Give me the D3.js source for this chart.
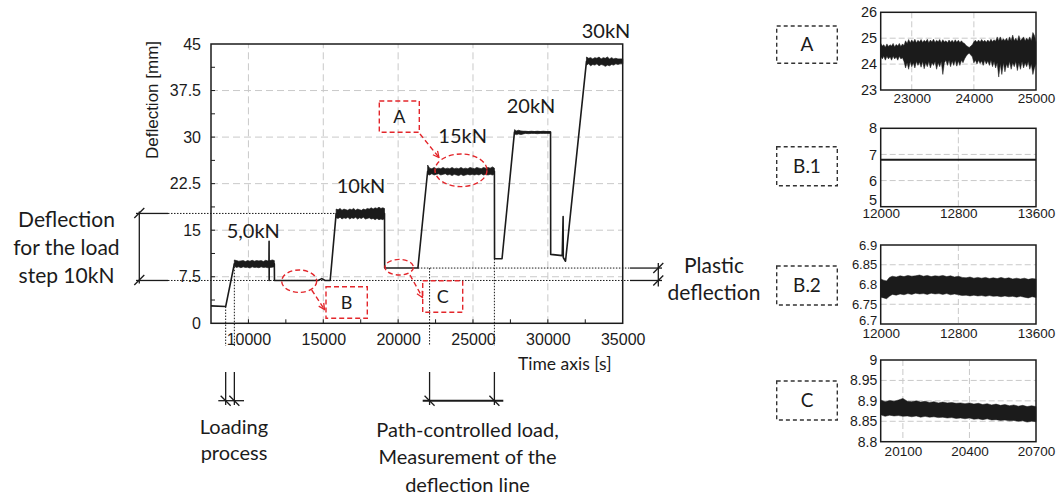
<!DOCTYPE html>
<html>
<head>
<meta charset="utf-8">
<script src="https://cdn.jsdelivr.net/npm/d3@7"></script>
<style>
  html, body { margin: 0; padding: 0; background: #fff; }
  svg { display: block; }
</style>
</head>
<body>
<svg id="chart" width="1059" height="496"></svg>
<script>
// ---------- main test record: deflection over time ----------
// skeleton of the recorded path (time [s], deflection [mm])
const mainTime = [7500, 8480, 9060, 11370, 11380, 11385, 11390, 11730, 11740, 14650, 14900, 15120, 15460,
                  15860, 19090, 19100, 21320, 21970, 26430, 26440, 26940, 27770, 30180, 30190, 30960,
                  31020, 31030, 31180, 32580, 35000];
const mainDefl = [2.8, 2.7, 9.6, 9.6, 13.2, 6.9, 9.6, 9.6, 6.9, 6.9, 7.2, 6.9, 6.9,
                  17.7, 17.7, 8.9, 8.9, 24.5, 24.5, 10.4, 10.4, 30.8, 30.8, 11.1, 10.9,
                  17.2, 10.6, 10.0, 42.2, 42.2];

// scatter envelopes of the held load steps: [time, lower, upper]
const band5 = [[9060,9.2,10.2],[9200,9.0,10.1],[9350,9.1,10.0],[9500,8.95,10.05],[9650,9.1,10.1],[9800,9.0,9.95],
  [9950,9.05,10.1],[10100,8.9,10.0],[10250,9.1,10.15],[10400,9.0,10.0],[10550,9.05,10.1],[10700,8.95,10.05],
  [10850,9.1,10.1],[11000,9.0,9.95],[11150,9.05,10.15],[11300,8.95,10.05],[11450,9.0,10.1],[11600,9.05,10.2],[11730,9.1,10.1]];
const band10 = [[15860,17.0,18.4],[15990,16.9,18.3],[16120,17.1,18.5],[16250,16.8,18.2],[16380,17.0,18.4],[16510,16.9,18.3],
  [16640,17.1,18.2],[16770,16.8,18.4],[16900,17.0,18.3],[17030,16.9,18.5],[17160,17.1,18.2],[17290,16.8,18.4],
  [17420,17.0,18.3],[17550,16.9,18.2],[17680,17.1,18.4],[17810,16.8,18.3],[17940,16.9,18.5],[18070,17.0,18.4],
  [18200,16.8,18.6],[18330,16.9,18.4],[18460,16.7,18.6],[18590,16.9,18.5],[18720,16.7,18.7],[18850,16.8,18.5],
  [18980,16.7,18.6],[19090,16.9,18.5]];
const band15 = [[21970,24.0,25.5],[22100,23.9,25.0],[22250,24.1,24.9],[22400,23.9,25.1],[22550,24.0,24.9],[22700,24.1,25.0],
  [22850,23.9,24.9],[23000,24.0,25.1],[23150,24.1,24.9],[23300,23.9,25.0],[23450,24.0,24.9],[23600,23.8,25.1],
  [23750,24.0,24.9],[23900,23.9,25.0],[24050,23.8,24.9],[24200,24.0,25.1],[24350,23.8,24.9],[24500,23.9,25.0],
  [24650,24.0,24.9],[24800,23.9,25.1],[24950,24.0,25.0],[25100,23.9,24.9],[25250,24.0,25.1],[25400,23.9,25.0],
  [25550,24.1,24.9],[25700,23.9,25.1],[25850,24.0,25.0],[26000,23.9,25.1],[26150,24.0,25.0],[26300,23.9,25.2],[26430,24.0,25.0]];
const band20 = [[27770,30.5,31.2],[27900,30.4,31.0],[28050,30.5,31.1],[28200,30.4,31.0],[28350,30.5,30.95],
  [28500,30.6,30.95],[28700,30.55,30.9],[28900,30.6,30.95],[29100,30.6,30.9],[29300,30.55,30.95],
  [29500,30.6,30.9],[29700,30.6,30.95],[29900,30.6,30.9],[30180,30.6,30.9]];
const band30 = [[32580,41.6,42.9],[32720,41.8,42.7],[32860,41.5,42.8],[33000,41.7,42.6],[33140,41.6,42.8],
  [33280,41.8,42.7],[33420,41.5,42.9],[33560,41.7,42.6],[33700,41.6,42.8],[33840,41.4,42.7],[33980,41.6,42.9],
  [34120,41.5,42.6],[34260,41.7,42.8],[34400,41.6,42.6],[34540,41.8,42.7],[34680,41.7,42.6],[34820,41.8,42.6],[35000,41.8,42.6]];

// axis ticks of the main chart
const mainXTicks = [10000, 15000, 20000, 25000, 30000, 35000];
const mainYTicks = [0, 7.5, 15, 22.5, 30, 37.5, 45];
const stepLabels = ["5,0kN", "10kN", "15kN", "20kN", "30kN"];

// ---------- detail views ----------
const insetA = [
  [22500,24.3,24.8],[22525,24.2,24.7],[22550,24.3,24.75],[22575,24.15,24.65],[22600,24.3,24.78],[22625,24.2,24.68],
  [22650,24.28,24.75],[22675,24.15,24.7],[22700,24.3,24.8],[22725,24.2,24.66],[22750,24.27,24.76],[22775,24.15,24.7],
  [22800,24.3,24.8],[22825,24.2,24.68],[22850,24.25,24.78],[22875,24.1,24.72],[22900,23.85,24.9],[22925,24.05,24.8],
  [22950,23.8,24.95],[22975,24.1,24.82],[23000,23.9,24.93],[23025,24.05,24.84],[23050,23.85,24.96],[23075,24.1,24.82],
  [23100,23.95,24.92],[23125,24.08,24.85],[23150,23.88,24.95],[23175,24.1,24.83],[23200,23.82,24.92],[23225,24.05,24.86],
  [23250,23.9,24.96],[23275,24.1,24.82],[23300,23.85,24.93],[23325,24.05,24.85],[23350,23.95,24.96],[23375,24.1,24.83],
  [23400,23.8,24.92],[23425,24.05,24.86],[23450,23.9,24.95],[23475,24.1,24.82],[23500,23.6,24.94],[23525,24.05,24.85],
  [23550,24.15,24.9],[23575,23.95,24.82],[23600,24.15,24.93],[23625,23.9,24.84],[23650,24.12,24.92],[23675,23.95,24.83],
  [23700,24.15,24.94],[23725,23.92,24.84],[23750,24.12,24.92],[23775,23.95,24.83],[23800,24.15,24.9],[23825,24.05,24.82],
  [23850,24.2,24.8],[23875,24.3,24.72],[23900,24.38,24.68],[23925,24.42,24.64],[23950,24.35,24.7],[23975,24.28,24.75],
  [24000,24.05,24.86],[24025,24.15,24.92],[24050,24.0,24.84],[24075,24.15,24.93],[24100,24.02,24.85],[24125,24.12,24.95],
  [24150,23.95,24.86],[24175,24.15,24.92],[24200,24.0,24.84],[24225,24.12,24.93],[24250,23.95,24.85],[24275,24.15,24.96],
  [24300,23.9,24.86],[24325,24.1,24.94],[24350,23.85,24.88],[24375,24.05,25.05],[24400,23.5,24.9],[24425,24.0,25.05],
  [24450,23.6,24.9],[24475,24.05,24.98],[24500,23.7,24.9],[24525,24.0,25.0],[24550,23.85,24.88],[24575,24.1,25.05],
  [24600,23.8,24.9],[24625,24.05,25.12],[24650,23.9,24.9],[24675,24.1,25.0],[24700,23.75,24.88],[24725,24.05,25.1],
  [24750,23.8,24.9],[24775,24.1,24.98],[24800,23.85,25.05],[24825,24.05,24.9],[24850,23.9,25.0],[24875,24.1,24.92],
  [24900,23.8,25.05],[24925,24.0,24.9],[24950,23.6,25.22],[24975,23.85,25.1],[25000,24.0,24.85]];
const insetB1 = [[12000, 6.8], [13600, 6.8]];
const insetB2 = [[12000,6.768,6.814],[12030,6.766,6.811],[12060,6.764,6.809],[12090,6.770,6.818],[12120,6.775,6.821],
  [12160,6.773,6.819],[12200,6.776,6.822],[12240,6.774,6.820],[12280,6.777,6.823],[12320,6.775,6.821],
  [12360,6.778,6.822],[12400,6.776,6.824],[12440,6.777,6.821],[12480,6.775,6.823],[12520,6.778,6.820],
  [12560,6.776,6.822],[12600,6.777,6.821],[12640,6.775,6.823],[12680,6.777,6.820],[12720,6.774,6.822],
  [12760,6.776,6.819],[12800,6.774,6.821],[12840,6.772,6.818],[12880,6.773,6.817],[12920,6.771,6.819],
  [12960,6.773,6.816],[13000,6.771,6.818],[13040,6.772,6.816],[13080,6.770,6.818],[13120,6.772,6.815],
  [13160,6.770,6.817],[13200,6.771,6.815],[13240,6.769,6.818],[13280,6.771,6.815],[13320,6.769,6.817],
  [13360,6.770,6.814],[13400,6.768,6.816],[13440,6.770,6.814],[13480,6.768,6.816],[13520,6.766,6.813],
  [13560,6.769,6.815],[13600,6.767,6.814]];
const insetC = [[20000,8.866,8.902],[20020,8.862,8.898],[20040,8.865,8.901],[20060,8.863,8.899],[20080,8.864,8.902],
  [20100,8.862,8.906],[20120,8.863,8.899],[20140,8.861,8.898],[20160,8.863,8.900],[20180,8.860,8.897],
  [20200,8.862,8.899],[20220,8.860,8.896],[20240,8.861,8.898],[20260,8.859,8.895],[20280,8.860,8.897],
  [20300,8.858,8.895],[20320,8.859,8.896],[20340,8.857,8.894],[20360,8.858,8.895],[20380,8.856,8.893],
  [20400,8.858,8.895],[20420,8.855,8.892],[20440,8.856,8.894],[20460,8.854,8.891],[20480,8.856,8.893],
  [20500,8.853,8.890],[20520,8.854,8.892],[20540,8.852,8.889],[20560,8.853,8.891],[20580,8.851,8.888],
  [20600,8.852,8.890],[20620,8.850,8.887],[20640,8.851,8.889],[20660,8.848,8.886],[20680,8.850,8.888],
  [20700,8.849,8.886]];

const insetAXTicks = [23000, 24000, 25000], insetAYTicks = [23, 24, 25, 26];
const insetBXTicks = [12000, 12800, 13600];
const insetB1YTicks = [5, 6, 7, 8];
const insetB2YTicks = [6.7, 6.75, 6.8, 6.85, 6.9];
const insetCXTicks = [20100, 20400, 20700], insetCYTicks = [8.8, 8.85, 8.9, 8.95, 9];

// ---------- styling ----------
const INK = "#1b1b1b", RED = "#e3262b", GRID = "#c9c9c9";
const F_AX = "'Liberation Sans', Arial, sans-serif";
const F_TX = "Lato, 'Open Sans', sans-serif";

const svg = d3.select("#chart");
const defs = svg.append("defs");
defs.append("marker").attr("id", "arr").attr("viewBox", "0 0 8 8").attr("refX", 7).attr("refY", 4)
  .attr("markerWidth", 8).attr("markerHeight", 8).attr("markerUnits", "userSpaceOnUse").attr("orient", "auto")
  .append("path").attr("d", "M1,1 L7,4 L1,7").attr("fill", "none").attr("stroke", RED).attr("stroke-width", 1.3);

// ---------- main chart ----------
const x = d3.scaleLinear().domain([7500, 35000]).range([211, 622.7]);
const y = d3.scaleLinear().domain([0, 45]).range([323.3, 44]);
const main = svg.append("g");

// grid
main.append("g").selectAll("line").data(mainXTicks.filter(t => t < 35000)).join("line")
  .attr("x1", d => x(d)).attr("x2", d => x(d)).attr("y1", y(0)).attr("y2", y(45))
  .attr("stroke", GRID).attr("stroke-width", 1).attr("stroke-dasharray", "7,4");
main.append("g").selectAll("line").data(mainYTicks.filter(t => t > 0 && t < 45)).join("line")
  .attr("x1", x(7500)).attr("x2", x(35000)).attr("y1", d => y(d)).attr("y2", d => y(d))
  .attr("stroke", GRID).attr("stroke-width", 1).attr("stroke-dasharray", "7,4");

// inward minor ticks
main.append("g").selectAll("line").data(d3.range(10000, 35000, 2500)).join("line")
  .attr("x1", d => x(d)).attr("x2", d => x(d)).attr("y1", y(0)).attr("y2", y(0) - 4)
  .attr("stroke", INK).attr("stroke-width", 1);
main.append("g").selectAll("line").data(d3.range(3.75, 45, 3.75)).join("line")
  .attr("x1", x(7500)).attr("x2", x(7500) + 4).attr("y1", d => y(d)).attr("y2", d => y(d))
  .attr("stroke", INK).attr("stroke-width", 1);

// tick labels
const xAxis = main.append("g").attr("transform", `translate(0,${y(0)})`)
  .call(d3.axisBottom(x).tickValues(mainXTicks).tickSize(0).tickPadding(10.3).tickFormat(d3.format("d")));
const yAxis = main.append("g").attr("transform", `translate(${x(7500)},0)`)
  .call(d3.axisLeft(y).tickValues(mainYTicks).tickSize(0).tickPadding(10).tickFormat(d => String(d)));
[xAxis, yAxis].forEach(a => {
  a.select(".domain").remove();
  a.attr("font-family", F_AX).attr("font-size", 16);
  a.selectAll("text").attr("fill", INK);
});

// reference (dotted) lines
const dot = sel => sel.attr("stroke", INK).attr("stroke-width", 1).attr("stroke-dasharray", "1.5,1.5").attr("fill", "none");
const solid = sel => sel.attr("stroke", INK).attr("stroke-width", 1.3).attr("fill", "none");
const seg = (x1, y1, x2, y2) => main.append("line").attr("x1", x1).attr("y1", y1).attr("x2", x2).attr("y2", y2);

seg(168, y(17.7), x(19090), y(17.7)).call(dot);
seg(168, y(6.9), 630, y(6.9)).call(dot);
seg(x(21320), y(8.9), 630, y(8.9)).call(dot);
// vertical markers of loading and measuring phases
[8480, 9060].forEach((t, i) => {
  seg(x(t), y(i ? 9.6 : 2.7), x(t), 346).call(dot);
  seg(x(t), 372, x(t), 405).call(solid);
});
[22100, 26430].forEach((t, i) => {
  seg(x(t), y(i ? 10.4 : 8.9), x(t), 346).call(dot);
  seg(x(t), 372, x(t), 405).call(solid);
});
seg(218.3, 400.7, 244, 400.7).call(solid);
seg(422.7, 400.7, 503.3, 400.7).call(solid).attr("stroke-width", 2);
[x(8480), x(9060), x(22100), x(26430)].forEach(px => seg(px - 5, 395.7, px + 5, 405.7).call(solid));

// left bracket: deflection of the 10 kN step
seg(139.3, y(17.7) - 2, 139.3, y(6.9) + 3).call(solid);
seg(136, y(17.7), 168, y(17.7)).call(solid);
seg(136, y(6.9), 168, y(6.9)).call(solid);
[y(17.7), y(6.9)].forEach(py => seg(134.3, py + 4.5, 144.3, py - 5.5).call(solid));

// right bracket: plastic deflection
seg(658.3, y(8.9) - 5, 658.3, y(6.9) + 6).call(solid);
seg(630, y(8.9), 662, y(8.9)).call(solid);
seg(630, y(6.9), 662, y(6.9)).call(solid);
[y(8.9), y(6.9)].forEach(py => seg(653.3, py + 5, 663.3, py - 5).call(solid));

// recorded path
const pts = mainTime.map((t, i) => [t, mainDefl[i]]);
main.append("path").datum(pts)
  .attr("d", d3.line().x(d => x(d[0])).y(d => y(d[1])))
  .attr("fill", "none").attr("stroke", INK).attr("stroke-width", 1.6).attr("stroke-linejoin", "round");
const bandArea = d3.area().x(d => x(d[0])).y0(d => y(d[1])).y1(d => y(d[2]));
[band5, band10, band15, band20, band30].forEach(b =>
  main.append("path").datum(b).attr("d", bandArea)
    .attr("fill", INK).attr("stroke", INK).attr("stroke-width", 0.7));

// frame
main.append("rect").attr("x", x(7500)).attr("y", y(45)).attr("width", x(35000) - x(7500)).attr("height", y(0) - y(45))
  .attr("fill", "none").attr("stroke", INK).attr("stroke-width", 1.5);

// axis titles
main.append("text").attr("transform", `translate(158,100) rotate(-90)`).attr("text-anchor", "middle")
  .attr("font-family", F_AX).attr("font-size", 17).attr("fill", INK).text("Deflection [mm]");
main.append("text").attr("x", 518).attr("y", 370).attr("font-family", F_TX).attr("font-size", 17.5)
  .attr("fill", INK).text("Time axis [s]");

// load step labels
const stepPos = [[226.7, 237.7], [336.7, 193.3], [438.3, 143.3], [506.7, 112.7], [581.7, 38.3]];
main.append("g").selectAll("text").data(stepLabels).join("text")
  .attr("x", (d, i) => stepPos[i][0]).attr("y", (d, i) => stepPos[i][1])
  .attr("font-family", F_TX).attr("font-size", 20).attr("fill", INK).text(d => d);

// explanatory texts
const multi = (lines, cx, y0, dy, size) => {
  const t = main.append("text").attr("text-anchor", "middle").attr("font-family", F_TX)
    .attr("font-size", size).attr("fill", INK);
  lines.forEach((s, i) => t.append("tspan").attr("x", cx).attr("y", y0 + i * dy).text(s));
};
multi(["Deflection", "for the load", "step 10kN"], 66.5, 227, 28, 21);
multi(["Plastic", "deflection"], 714, 273.3, 26.7, 21);
multi(["Loading", "process"], 234, 434, 25.5, 20);
multi(["Path-controlled load,", "Measurement of the", "deflection line"], 467.5, 436.7, 27.5, 20);

// red detail markers
const red = sel => sel.attr("fill", "none").attr("stroke", RED).attr("stroke-width", 1.4).attr("stroke-dasharray", "5,3");
[[461, 170.3, 26, 16.3], [299.2, 281.2, 17.5, 11.2], [399.2, 267.2, 14.2, 7.8]].forEach(e =>
  main.append("ellipse").attr("cx", e[0]).attr("cy", e[1]).attr("rx", e[2]).attr("ry", e[3]).call(red));
const redBoxes = [["A", 379.3, 101, 40, 31.3], ["B", 326, 286.7, 41.3, 31.6], ["C", 422.7, 280.7, 40, 31.6]];
redBoxes.forEach(b => {
  main.append("rect").attr("x", b[1]).attr("y", b[2]).attr("width", b[3]).attr("height", b[4]).call(red);
  main.append("text").attr("x", b[1] + b[3] / 2).attr("y", b[2] + b[4] / 2 + 6.5).attr("text-anchor", "middle")
    .attr("font-family", F_TX).attr("font-size", 18).attr("fill", INK).text(b[0]);
});
[[420, 134, 439, 157.5], [311.7, 290, 324.5, 309.5], [410, 275, 422.5, 297.5]].forEach(l =>
  main.append("line").attr("x1", l[0]).attr("y1", l[1]).attr("x2", l[2]).attr("y2", l[3]).call(red)
    .attr("marker-end", "url(#arr)"));

// ---------- detail views ----------
const insetCfg = [
  { name: "A", top: 12.3, bottom: 90, box: [26, 63.3], xd: [22500, 25000], yd: [23, 26],
    xt: insetAXTicks, yt: insetAYTicks, xg: [23000, 24000], yg: [24, 25], pad: 3, yfs: 14.5, band: insetA },
  { name: "B.1", top: 128.3, bottom: 206.7, box: [146.7, 185.7], xd: [12000, 13600], yd: [5, 8],
    xt: insetBXTicks, yt: insetB1YTicks, xg: [12800], yg: [6, 7], pad: 2, yfs: 14.5, lift: 7, line: insetB1 },
  { name: "B.2", top: 245, bottom: 324, box: [266, 305], xd: [12000, 13600], yd: [6.7, 6.9],
    xt: insetBXTicks, yt: insetB2YTicks, xg: [12800], yg: [6.75, 6.8, 6.85], pad: 4.5, yfs: 13, lift: 4, band: insetB2 },
  { name: "C", top: 360, bottom: 441.7, box: [381, 420], xd: [20000, 20700], yd: [8.8, 9.0],
    xt: insetCXTicks, yt: insetCYTicks, xg: [20100, 20400], yg: [8.85, 8.9, 8.95], pad: 4.8, yfs: 14, band: insetC }
];
const L = 880.7, R = 1036;
insetCfg.forEach(c => {
  const g = svg.append("g");
  const sx = d3.scaleLinear().domain(c.xd).range([L, R]);
  const sy = d3.scaleLinear().domain(c.yd).range([c.bottom, c.top]);
  g.append("g").selectAll("line").data(c.xg).join("line")
    .attr("x1", d => sx(d)).attr("x2", d => sx(d)).attr("y1", c.top).attr("y2", c.bottom)
    .attr("stroke", GRID).attr("stroke-dasharray", "6,3");
  g.append("g").selectAll("line").data(c.yg).join("line")
    .attr("x1", L).attr("x2", R).attr("y1", d => sy(d)).attr("y2", d => sy(d))
    .attr("stroke", GRID).attr("stroke-dasharray", "6,3");
  if (c.band) {
    g.append("path").datum(c.band)
      .attr("d", d3.area().x(d => sx(d[0])).y0(d => sy(d[1])).y1(d => sy(d[2])))
      .attr("fill", INK).attr("stroke", INK).attr("stroke-width", 0.5);
  }
  if (c.line) {
    g.append("path").datum(c.line).attr("d", d3.line().x(d => sx(d[0])).y(d => sy(d[1])))
      .attr("fill", "none").attr("stroke", INK).attr("stroke-width", 2);
  }
  g.append("rect").attr("x", L).attr("y", c.top).attr("width", R - L).attr("height", c.bottom - c.top)
    .attr("fill", "none").attr("stroke", INK).attr("stroke-width", 1.5);
  const ax = g.append("g").attr("transform", `translate(0,${c.bottom})`)
    .call(d3.axisBottom(sx).tickValues(c.xt).tickSize(0).tickPadding(c.pad).tickFormat(d3.format("d")));
  const ay = g.append("g").attr("transform", `translate(${L},0)`)
    .call(d3.axisLeft(sy).tickValues(c.yt).tickSize(0).tickPadding(3.5).tickFormat(d => String(d)));
  ax.attr("font-size", 13.5); ay.attr("font-size", c.yfs);
  [ax, ay].forEach(a => { a.select(".domain").remove(); a.attr("font-family", F_AX); a.selectAll("text").attr("fill", INK); });
  // the lowest value label sits just above the time labels where they meet
  if (c.lift) ay.selectAll(".tick").filter(d => d === c.yd[0]).select("text").attr("dy", `${0.32 - c.lift / c.yfs}em`);
  // label box
  g.append("rect").attr("x", 776.7).attr("y", c.box[0]).attr("width", 60.6).attr("height", c.box[1] - c.box[0])
    .attr("fill", "none").attr("stroke", "#333").attr("stroke-width", 1.4).attr("stroke-dasharray", "4,3");
  g.append("text").attr("x", 807).attr("y", (c.box[0] + c.box[1]) / 2 + 6.5).attr("text-anchor", "middle")
    .attr("font-family", F_TX).attr("font-size", 19).attr("fill", INK).text(c.name);
});
</script>
</body>
</html>
